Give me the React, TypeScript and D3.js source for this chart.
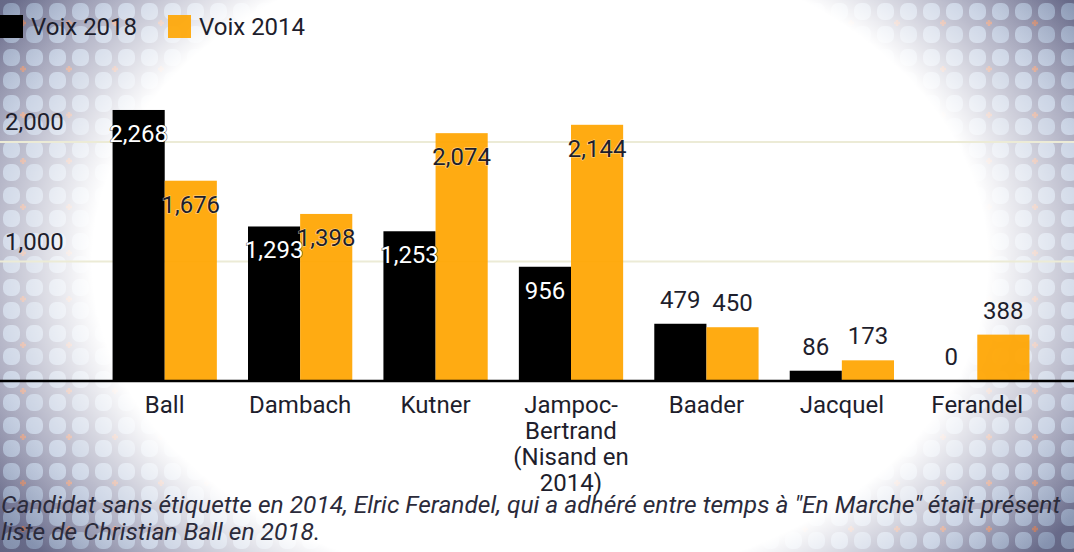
import React from "react";
import * as d3 from "d3";

const W = 1074;
const H = 552;

// candidates (the 4th label wraps onto several lines)
const candidates = ["Ball", "Dambach", "Kutner", "Jampoc-Bertrand (Nisand en 2014)", "Baader", "Jacquel", "Ferandel"];
const candidateLines = [["Ball"], ["Dambach"], ["Kutner"], ["Jampoc-", "Bertrand", "(Nisand en", "2014)"], ["Baader"], ["Jacquel"], ["Ferandel"]];
const voix2018 = [2268, 1293, 1253, 956, 479, 86, 0];
const voix2014 = [1676, 1398, 2074, 2144, 450, 173, 388];
const seriesNames = ["Voix 2018", "Voix 2014"];
const seriesColors = ["#000000", "#ffa500"];
const yTicks = [1000, 2000];
const caption = [
  "Candidat sans étiquette en 2014, Elric Ferandel, qui a adhéré entre temps à \"En Marche\" était présent",
  "liste de Christian Ball en 2018.",
];

const textColor = "#1e1e2c";
const font = "Roboto, 'Noto Sans', sans-serif";
const fs = 24;

export default function App() {
  const x = d3.scaleBand<string>().domain(candidates).range([97, 1045]).paddingInner(0.23).paddingOuter(0.115);
  const xs = d3.scaleBand<string>().domain(seriesNames).range([0, x.bandwidth()]);
  const y = d3.scaleLinear().domain([0, 2000]).range([381, 142]);
  const fmt = d3.format(",");

  const series = [voix2018, voix2014];

  return (
    <svg width={W} height={H} style={{ position: "absolute", left: 0, top: 0 }} fontFamily={font}>
      <defs>
        <pattern id="tile" width="46" height="46" patternUnits="userSpaceOnUse">
          <rect width="46" height="46" fill="#6d6f92" />
          <rect x="3" y="3" width="17" height="17" rx="7" fill="#9fb0cf" />
          <rect x="26" y="3" width="17" height="17" rx="7" fill="#9fb0cf" />
          <rect x="3" y="26" width="17" height="17" rx="7" fill="#9fb0cf" />
          <rect x="26" y="26" width="17" height="17" rx="7" fill="#97a8c8" />
          <path d="M20,23 h6 M23,20 v6" stroke="#c9714f" strokeWidth="2.5" />
        </pattern>
        <radialGradient id="glow" gradientUnits="userSpaceOnUse" cx="540" cy="262" r="640"
          gradientTransform="translate(540,262) scale(1,0.72) translate(-540,-262)">
          <stop offset="0" stopColor="#fff" stopOpacity="1" />
          <stop offset="0.7" stopColor="#fff" stopOpacity="1" />
          <stop offset="0.86" stopColor="#fff" stopOpacity="0.5" />
          <stop offset="1" stopColor="#fff" stopOpacity="0.08" />
        </radialGradient>
        <radialGradient id="dark" gradientUnits="userSpaceOnUse" cx="540" cy="262" r="700"
          gradientTransform="translate(540,262) scale(1,0.7) translate(-540,-262)">
          <stop offset="0.8" stopColor="#1a1f3a" stopOpacity="0" />
          <stop offset="1" stopColor="#1a1f3a" stopOpacity="0.35" />
        </radialGradient>
      </defs>

      <rect width={W} height={H} fill="url(#tile)" />
      <rect width={W} height={H} fill="url(#dark)" />
      <rect width={W} height={H} fill="url(#glow)" />

      {/* legend */}
      {seriesNames.map((s, i) => (
        <g key={s} transform={`translate(${i * 168},0)`}>
          <rect x={0} y={15} width={23} height={23} fill={seriesColors[i]} opacity={i ? 0.9 : 1} />
          <text x={31} y={35} fontSize={fs} fill={textColor}>{s}</text>
        </g>
      ))}

      {/* grid + y labels */}
      {yTicks.map((t) => (
        <g key={t}>
          <line x1={0} x2={W} y1={y(t)} y2={y(t)} stroke="#ecebd6" strokeWidth={2} />
          <text x={5} y={y(t) - 12} fontSize={fs} fill={textColor}>{fmt(t)}</text>
        </g>
      ))}

      {/* bars */}
      {candidates.map((c, ci) => (
        <g key={c} transform={`translate(${x(c)},0)`}>
          {series.map((vals, si) => (
            <rect key={si} x={xs(seriesNames[si])} y={y(vals[ci])} width={xs.bandwidth()}
              height={y(0) - y(vals[ci])} fill={seriesColors[si]} opacity={si ? 0.93 : 1} />
          ))}
        </g>
      ))}

      {/* value labels */}
      {candidates.map((c, ci) => (
        <g key={c} transform={`translate(${x(c)},0)`}>
          {series.map((vals, si) => {
            const v = vals[ci];
            const inside = v > 700;
            const cx = (xs(seriesNames[si]) as number) + xs.bandwidth() / 2;
            const ty = inside ? y(v) + 32 : y(v) - 16;
            const fill = inside && si === 0 ? "#ffffff" : textColor;
            return (
              <text key={si} x={cx} y={ty} textAnchor="middle" fontSize={fs} fill={fill}
                stroke={inside ? (si === 0 ? "#000" : "#fff8e0") : "none"} strokeWidth={1.2}
                strokeOpacity={0.6} paintOrder="stroke">
                {fmt(v)}
              </text>
            );
          })}
        </g>
      ))}

      {/* baseline */}
      <line x1={0} x2={W} y1={y(0)} y2={y(0)} stroke="#000" strokeWidth={2.5} />

      {/* category labels */}
      {candidates.map((c, ci) => (
        <text key={c} x={(x(c) as number) + x.bandwidth() / 2} y={y(0) + 32} textAnchor="middle" fontSize={fs} fill={textColor}>
          {candidateLines[ci].map((l, li) => (
            <tspan key={li} x={(x(c) as number) + x.bandwidth() / 2} dy={li ? 26 : 0}>{l}</tspan>
          ))}
        </text>
      ))}

      {/* caption */}
      {caption.map((l, i) => (
        <text key={i} x={1} y={513 + i * 27} fontSize={24.5} fontStyle="italic" fill="#2b2b3b">{l}</text>
      ))}
    </svg>
  );
}
